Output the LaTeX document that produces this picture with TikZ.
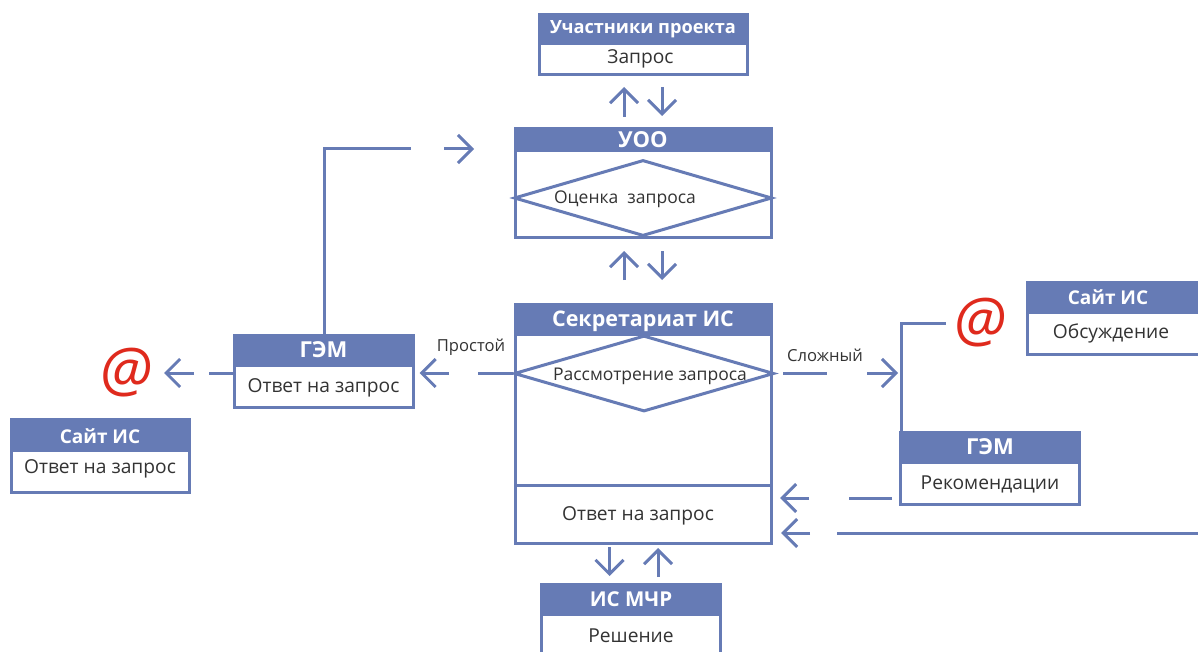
\documentclass[tikz,border=0pt]{standalone}
\usepackage{fontspec}
\setmainfont{Open Sans}
\usetikzlibrary{arrows.meta, positioning, shapes.geometric}
\definecolor{boxblue}{HTML}{667BB5}
\definecolor{mailred}{HTML}{DF2A1D}
\definecolor{inktext}{HTML}{333333}
\newcommand{\headsize}[1]{\fontsize{#1}{#1}\selectfont\bfseries}
\tikzset{>={Straight Barb[length=14pt,width=28pt,line width=3pt]}}
\tikzset{
	head/.style={fill=boxblue, draw=boxblue, line width=3pt, text=white, inner sep=0pt, minimum height=#1, font=\headsize{18.2}},
	head/.default=29pt,
	body/.style={draw=boxblue, line width=3pt, fill=white, text=inktext, inner sep=0pt, text depth=0pt, font=\fontsize{19.2}{21}\selectfont},
	decide/.style={diamond, draw=boxblue, line width=3pt, inner sep=0pt, aspect=3.4},
	note/.style={text=inktext, inner sep=0pt, font=\fontsize{17.5}{19}\selectfont},
	side/.style={text=inktext, inner sep=0pt, font=\fontsize{16.6}{19}\selectfont},
	mail/.style={text=mailred, inner sep=0pt, font=\fontsize{61}{63}\selectfont\itshape},
	link/.style={draw=boxblue, line width=3pt}
}
\begin{document}
\begin{tikzpicture}[x=1pt, y=-1pt]
	\clip (0,0) rectangle (1198,652);

	% top boxes
	\node[body, minimum width=208pt, minimum height=36pt]	(Part)	at	(643,57)	{Запрос\kern5pt};
	\node[head, minimum width=208pt]	(PartH)	at	(643,29)	{Участники проекта};

	\node[body, minimum width=256pt, minimum height=94pt]	(Uoo)	at	(643,191)	{};
	\node[head=22pt, minimum width=256pt, font=\headsize{22}]	(UooH)	at	(643,140)	{УОО};
	\node[decide, minimum width=258pt, minimum height=76pt]	(UooD)	at	(643,198)	{};
	\node[note]	(UooT)	at	(625,199)	{Оценка\ \ запроса};

	% secretariat
	\node[body, minimum width=256pt, minimum height=210pt]	(Sec)	at	(643,437)	{};
	\node[head=30pt, minimum width=256pt, font=\headsize{21.5}, text depth=0pt]	(SecH)	at	(643,319)	{Секретариат ИС};
	\node[decide, minimum width=260pt, minimum height=76pt]	(SecD)	at	(644,373.5)	{};
	\node[note]	(SecT)	at	(650,376)	{Рассмотрение запроса};
	\node[body, minimum width=256pt, minimum height=58pt]	(SecA)	at	(643,514)	{Ответ на запрос\kern10pt};

	% left side
	\node[body, minimum width=179pt, minimum height=42pt]	(GemL)	at	(323.5,386)	{Ответ на запрос};
	\node[head, minimum width=179pt, font=\headsize{22}]	(GemLH)	at	(323.5,350)	{ГЭМ};
	\node[mail]	(MailL)	at	(126,373)	{@};
	\node[body, minimum width=178pt, minimum height=42pt, text depth=9pt]	(SiteL)	at	(100,471)	{Ответ на запрос};
	\node[head, minimum width=178pt, minimum height=30pt, font=\headsize{19}, text height=18pt, text depth=0pt]	(SiteLH)	at	(100,434.5)	{Сайт ИС};

	% right side
	\node[mail]	(MailR)	at	(980,323)	{@};
	\node[body, minimum width=180pt, minimum height=42pt, text depth=4pt]	(SiteR)	at	(1117,333)	{Обсуждение\kern12pt};
	\node[head, minimum width=180pt, font=\headsize{19}]	(SiteRH)	at	(1117,297)	{Сайт ИС\kern18pt};
	\node[body, minimum width=179pt, minimum height=42pt]	(GemR)	at	(990,483)	{Рекомендации};
	\node[head, minimum width=179pt, font=\headsize{22}]	(GemRH)	at	(990,447)	{ГЭМ};

	% bottom box
	\node[body, minimum width=179pt, minimum height=60pt, text depth=16pt]	(Mchr)	at	(631,644)	{Решение};
	\node[head, minimum width=179pt, font=\headsize{20.5}]	(MchrH)	at	(631,599)	{ИС МЧР};

	% labels
	\node[side]	(Easy)	at	(471,347)	{Простой};
	\node[side]	(Hard)	at	(825,355)	{Сложный};

	% free ends of the connectors
	\coordinate	(a1)	at	(624,117);
	\coordinate	(a2)	at	(624,87);
	\coordinate	(a3)	at	(662,87);
	\coordinate	(a4)	at	(662,116);
	\coordinate	(b1)	at	(624,280);
	\coordinate	(b2)	at	(624,251);
	\coordinate	(b3)	at	(662,251);
	\coordinate	(b4)	at	(662,280);
	\coordinate	(c1)	at	(609.5,547);
	\coordinate	(c2)	at	(609.5,576);
	\coordinate	(c3)	at	(658,577);
	\coordinate	(c4)	at	(658,548);
	\coordinate	(d0)	at	(324,149);
	\coordinate	(d1)	at	(411,149);
	\coordinate	(d2)	at	(444,149);
	\coordinate	(d3)	at	(474,149);
	\coordinate	(e1)	at	(478,373);
	\coordinate	(e2)	at	(449,373);
	\coordinate	(f1)	at	(209,373);
	\coordinate	(f2)	at	(194,373);
	\coordinate	(f3)	at	(164,373);
	\coordinate	(g1)	at	(783,373);
	\coordinate	(g2)	at	(827,373);
	\coordinate	(g3)	at	(867,373);
	\coordinate	(g4)	at	(898,373);
	\coordinate	(h0)	at	(901,323);
	\coordinate	(h1)	at	(946,323);
	\coordinate	(i0)	at	(892,498);
	\coordinate	(i1)	at	(849,498);
	\coordinate	(i2)	at	(809,498);
	\coordinate	(i3)	at	(780,498);
	\coordinate	(j0)	at	(1198,533);
	\coordinate	(j1)	at	(837,533);
	\coordinate	(j2)	at	(810,533);
	\coordinate	(j3)	at	(781,533);

	\draw[link, ->](a1) -- (a2);
	\draw[link, ->](a3) -- (a4);
	\draw[link, ->](b1) -- (b2);
	\draw[link, ->](b3) -- (b4);
	\draw[link, ->](c1) -- (c2);
	\draw[link, ->](c3) -- (c4);

	\draw[link](GemLH.north -| d0) -- (d0) -- (d1);
	\draw[link, ->](d2) -- (d3);

	\draw[link](SecD.west |- e1) -- (e1);
	\draw[link, ->, shorten >=5pt](e2) -- (GemL.east |- e2);
	\draw[link](GemLH.west |- f1) -- (f1);
	\draw[link, ->](f2) -- (f3);

	\draw[link](g1) -- (g2);
	\draw[link, ->](g3) -- (g4);
	\draw[link](GemRH.north -| h0) -- (h0) -- (h1);

	\draw[link](i0) -- (i1);
	\draw[link, ->](i2) -- (i3);
	\draw[link](j0) -- (j1);
	\draw[link, ->](j2) -- (j3);
\end{tikzpicture}
\end{document}
